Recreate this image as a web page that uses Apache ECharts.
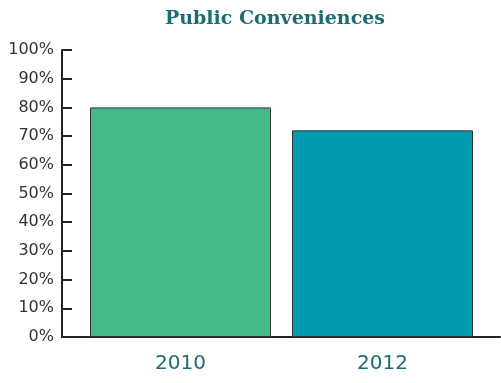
<!DOCTYPE html>
<html>
<head>
<meta charset="utf-8">
<script src="https://cdn.jsdelivr.net/npm/echarts@6/dist/echarts.min.js"></script>
<style>html,body{margin:0;padding:0;background:#fff}#c{width:501px;height:383px}</style>
</head>
<body>
<div id="c"></div>
<script>
var categories = ['2010', '2012'];
var values = [80, 72];
var yTicks = [0, 10, 20, 30, 40, 50, 60, 70, 80, 90, 100];
var title = 'Public Conveniences';

var barColors = ['#45b98a', '#019cb2'];
var chart = echarts.init(document.getElementById('c'), null, {renderer: 'canvas'});
chart.setOption({
  animation: false,
  backgroundColor: '#ffffff',
  title: {
    text: title,
    left: 270, top: 5, textAlign: 'center',
    textStyle: {fontFamily: 'DejaVu Serif', fontWeight: 'bold', fontSize: 19, color: '#1c6c74'}
  },
  grid: [
    {left: 79.5, right: 17.5, top: 50, bottom: 46},
    {left: 62, right: 1, top: 50, bottom: 46}
  ],
  xAxis: [
    {gridIndex: 0, type: 'category', data: categories,
     axisLine: {show: false}, axisTick: {show: false},
     axisLabel: {margin: 17, fontFamily: 'DejaVu Sans', fontSize: 20, color: '#1f6a74'}},
    {gridIndex: 1, type: 'value', min: 0, max: 1,
     axisLine: {show: true, lineStyle: {color: '#222', width: 2}},
     axisTick: {show: false}, axisLabel: {show: false}, splitLine: {show: false}}
  ],
  yAxis: [
    {gridIndex: 0, type: 'value', min: 0, max: 100, show: false, splitLine: {show: false}},
    {gridIndex: 1, type: 'value', min: yTicks[0], max: yTicks[yTicks.length - 1], interval: 10,
     axisLine: {show: true, lineStyle: {color: '#222', width: 2}},
     axisTick: {show: true, inside: true, length: 10, lineStyle: {color: '#222', width: 2}},
     axisLabel: {margin: 8, formatter: '{value}%', fontFamily: 'DejaVu Sans', fontSize: 16, color: '#333'},
     splitLine: {show: false}}
  ],
  series: [{
    type: 'bar', xAxisIndex: 0, yAxisIndex: 0,
    barWidth: 181,
    data: values.map(function (v, i) {
      return {value: v, itemStyle: {color: barColors[i]}};
    }),
    itemStyle: {borderColor: '#333', borderWidth: 1}
  }]
});
</script>
</body>
</html>
